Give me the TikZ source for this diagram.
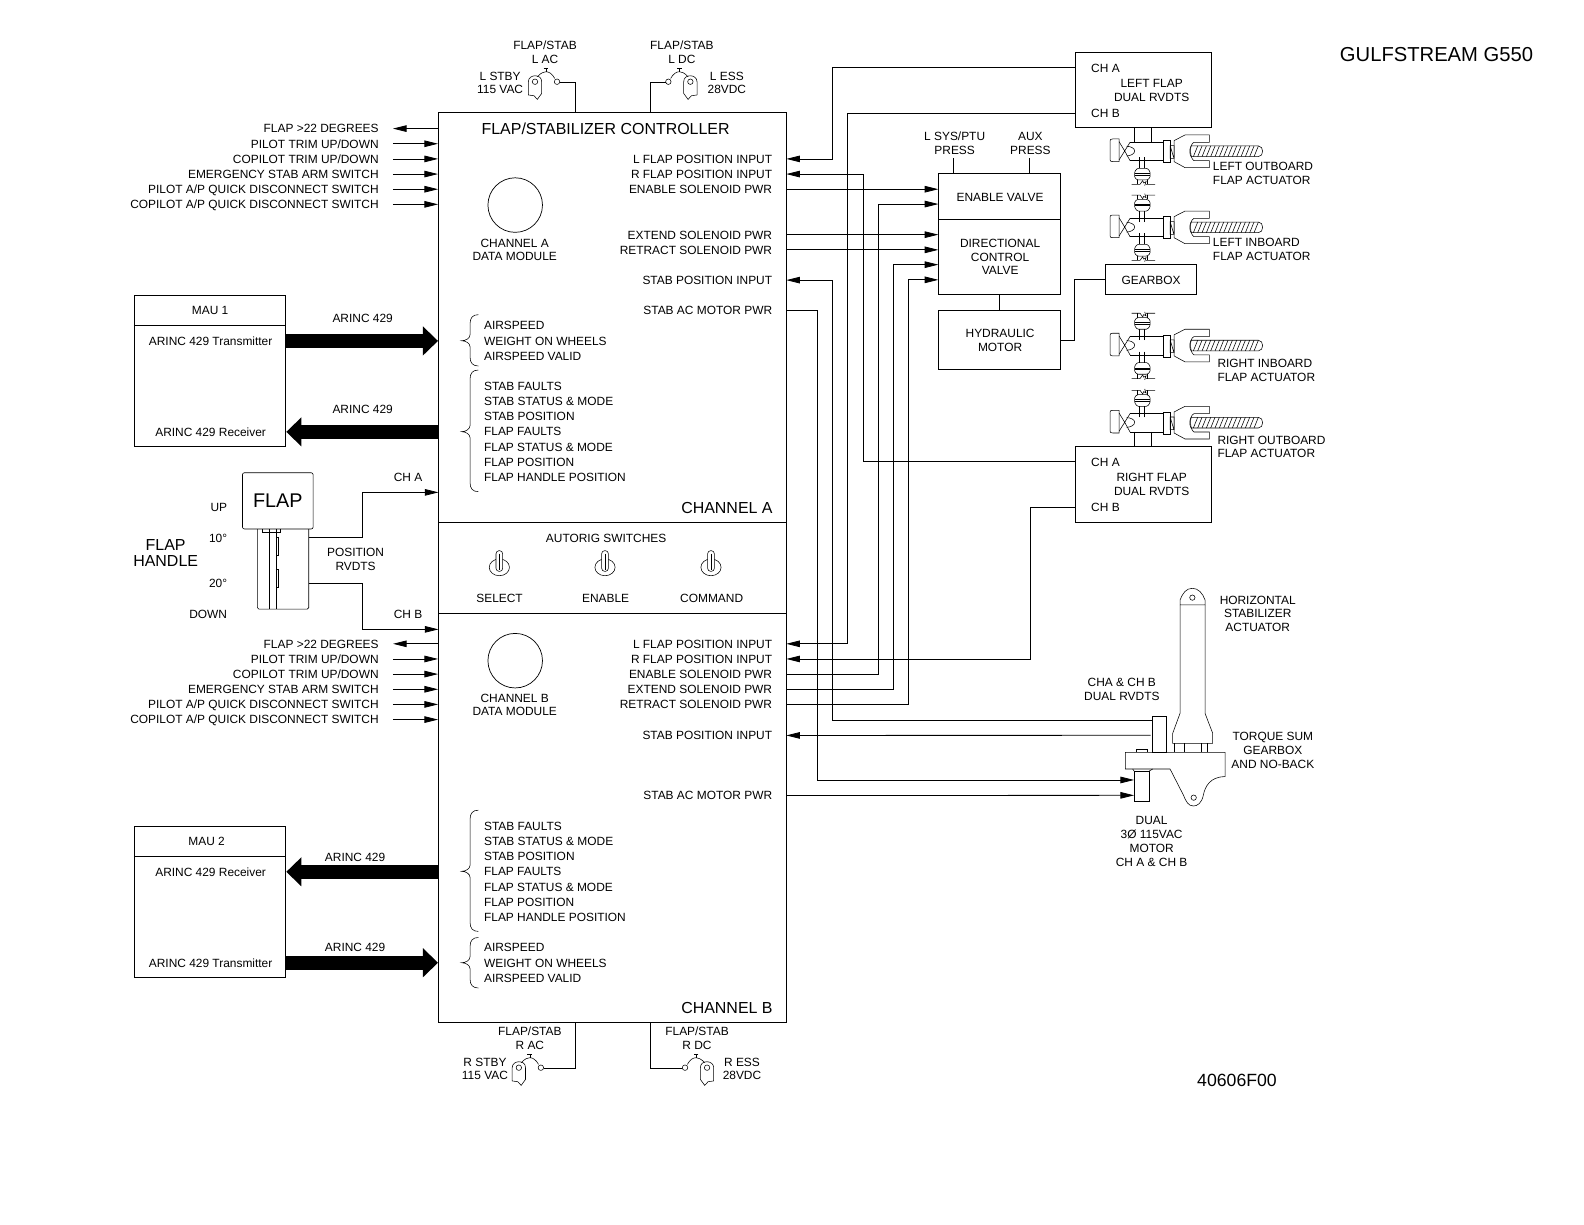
\documentclass[tikz,border=0pt]{standalone}
\usepackage{fontspec}
\setmainfont{Liberation Sans}
\usetikzlibrary{arrows.meta}
\newcommand{\ftS}{\fontsize{11.8}{13.6}\selectfont}
\newcommand{\ftL}{\fontsize{11.8}{15}\selectfont}
\tikzset{
  txt/.style={inner sep=0pt,font=\ftS,text height=8.6pt,text depth=0pt},
  mtxt/.style={inner sep=0pt,font=\ftS,align=center},
  ltxt/.style={inner sep=0pt,font=\ftL,align=left,anchor=west},
  bigt/.style={inner sep=0pt,font=\fontsize{15.8}{16}\selectfont},
  boxn/.style={draw,line width=.8pt,inner sep=0pt,fill=none},
  sig/.style={line width=.8pt,-{Triangle[length=13.5pt,width=6.5pt]}},
  wire/.style={line width=.8pt},
  thin line/.style={line width=.55pt},
  fat/.style={line width=14pt,-{Triangle[length=15pt,width=28pt]}},
  breaker/.pic={
    \draw[thin line] (-8.6,5) .. controls (-5,1) and (-2,0) .. (0,0) .. controls (3,0) and (6,2) .. (8.6,6.6);
    \draw[thin line] (0,0)--(0,-3.3) (-2.4,-3.3)--(2.4,-3.3);
    \draw[thin line] (10.9,9.9) circle (2.7);
    \draw[thin line] (-10.9,9.9) circle (2.7);
    \draw[thin line] (-17.5,23) -- (-17.5,10) .. controls (-17.5,6) and (-14,4) .. (-10.9,4) .. controls (-7,4) and (-4.3,6) .. (-4.3,10) -- (-4.3,21.5) -- (-8.6,27.4) -- (-11.9,23.8) -- cycle;
  },
  toggle/.pic={
    \draw[thin line] (0,0) ellipse (10 and 8.3);
    \draw[thin line,fill=white,rounded corners=3pt] (-3.3,4)--(-3.3,-16.5)--(3.3,-16.5)--(3.3,4)--cycle;
    \draw[thin line] (0,-13.5)--(0,3);
  },
}
\newcommand{\actbody}{
    \draw[thin line] (8,-38)--(27,-38)--(27,30)--(8,30) .. controls (2,30) and (0,28) .. (0,24) -- (0,-32) .. controls (0,-36) and (2,-38) .. (8,-38);
    \draw[thin line] (27,-30)--(44,-2)--(27,25) (60,-28)--(44,-2)--(60,27);
    \draw[thin line] (50,-16) .. controls (62,-16) and (74,-10) .. (74,-2) .. controls (74,6) and (62,13) .. (50,13);
    \draw[thin line] (60,-28)--(160,-28) (60,27)--(160,27) (160,-28)--(160,27);
    \draw[thin line] (160,-33) rectangle (180,33);
    \draw[thin line] (180,-18) rectangle (192,20) (181,-16)--(191,18);
    \draw[thin line] (192,-33)--(192,30)--(225,48)--(298,48)--(298,27)--(252,27) .. controls (240,22) and (236,-22) .. (252,-28) -- (298,-28)--(298,-50)--(225,-50)--cycle;
    \draw[thin line] (243,-17)--(445,-17) .. controls (462,-17) and (462,15) .. (445,15) -- (243,15) .. controls (238,5) and (238,-7) .. (243,-17);
    \foreach \hx in {250,263,...,440} {\draw[thin line] (\hx,15)--(\hx+13,-17);}
}
\newcommand{\coupl}{
    \draw[thin line] (88,17)--(88,50) (103,17)--(103,50);
    \draw[thin line,rounded corners=1pt] (82,50)--(112,50)--(120,60)--(120,78)--(112,85)--(82,85)--(74,78)--(74,60)--cycle;
    \draw[thin line] (74,66)--(120,66) (74,70)--(120,70);
    \draw[thin line] (82,85)--(82,98) (112,85)--(112,98);
    \draw[thin line] (65,98)--(90,98)--(98,87)--(101,94)--(108,90)--(104,102) (108,98)--(135,98);
}
\newcommand{\couplup}{\begin{scope}[yscale=-1]\coupl\end{scope}}
\newcommand{\lsig}[3]{\node[txt,anchor=east] (#1) at (375,#2) {#3};\draw[sig] (389,#2) -- (ctrl.west |- #1);}
\newcommand{\lsigout}[3]{\node[txt,anchor=east] (#1) at (375,#2) {#3};\draw[sig] (ctrl.west |- #1) -- (389,#2);}
\newcommand{\rlab}[3]{\node[txt,anchor=east] (#1) at (764.5,#2) {#3};}
\newcommand{\mybrace}[3]{\draw[thin line] (473.5,#1) .. controls (468,#1) and (465.3,{#1+3}) .. (465.3,{#1+9}) -- (465.3,{#2-6}) .. controls (465.3,{#2-2.5}) and (461,#2) .. (457,#2) .. controls (461,#2) and (465.3,{#2+2.5}) .. (465.3,{#2+6}) -- (465.3,{#3-9}) .. controls (465.3,{#3-3}) and (468,#3) .. (473.5,#3);}
\begin{document}
\begin{tikzpicture}[x=1pt,y=-1pt]
\fill[white] (0,0) rectangle (1568,1212);
\useasboundingbox (0,0) rectangle (1568,1212);
% main controller
\node[boxn,minimum width=344pt,minimum height=901pt] (ctrl) at (606,561.5) {};
\draw[wire] (ctrl.west |- 0,517) -- (ctrl.east |- 0,517);
\draw[wire] (ctrl.west |- 0,607) -- (ctrl.east |- 0,607);
\node[bigt] (title) at (599.5,127) {FLAP/STABILIZER CONTROLLER};
\node[bigt,anchor=east] (chanA) at (765,502.5) {CHANNEL A};
\node[bigt,anchor=east] (chanB) at (765,998) {CHANNEL B};
\node[draw,circle,line width=.7pt,minimum size=54pt,inner sep=0pt] (dmA) at (510,203) {};
\node[draw,circle,line width=.7pt,minimum size=54pt,inner sep=0pt] (dmB) at (510,654) {};
\node[mtxt] (dmAt) at (509.5,247.3) {CHANNEL A\\DATA MODULE};
\node[mtxt] (dmBt) at (509.5,697.8) {CHANNEL B\\DATA MODULE};
% left signals
\lsigout{a1}{127.3}{FLAP >22 DEGREES}
\lsig{a2}{142.3}{PILOT TRIM UP/DOWN}
\lsig{a3}{157.3}{COPILOT TRIM UP/DOWN}
\lsig{a4}{172.3}{EMERGENCY STAB ARM SWITCH}
\lsig{a5}{187.3}{PILOT A/P QUICK DISCONNECT SWITCH}
\lsig{a6}{202.3}{COPILOT A/P QUICK DISCONNECT SWITCH}
\lsigout{b1}{637.3}{FLAP >22 DEGREES}
\lsig{b2}{652.3}{PILOT TRIM UP/DOWN}
\lsig{b3}{667.3}{COPILOT TRIM UP/DOWN}
\lsig{b4}{682.3}{EMERGENCY STAB ARM SWITCH}
\lsig{b5}{697.3}{PILOT A/P QUICK DISCONNECT SWITCH}
\lsig{b6}{712.3}{COPILOT A/P QUICK DISCONNECT SWITCH}
% right labels
\rlab{ra1}{157.3}{L FLAP POSITION INPUT}
\rlab{ra2}{172.3}{R FLAP POSITION INPUT}
\rlab{ra3}{187.3}{ENABLE SOLENOID PWR}
\rlab{ra4}{232.3}{EXTEND SOLENOID PWR}
\rlab{ra5}{247.3}{RETRACT SOLENOID PWR}
\rlab{ra6}{277.3}{STAB POSITION INPUT}
\rlab{ra7}{307.3}{STAB AC MOTOR PWR}
\rlab{rb1}{637.3}{L FLAP POSITION INPUT}
\rlab{rb2}{652.3}{R FLAP POSITION INPUT}
\rlab{rb3}{667.3}{ENABLE SOLENOID PWR}
\rlab{rb4}{682.3}{EXTEND SOLENOID PWR}
\rlab{rb5}{697.3}{RETRACT SOLENOID PWR}
\rlab{rb6}{728}{STAB POSITION INPUT}
\rlab{rb7}{787.5}{STAB AC MOTOR PWR}
% lists
\node[ltxt] (l1) at (479,337.5) {AIRSPEED\\WEIGHT ON WHEELS\\AIRSPEED VALID};
\node[ltxt] (l2) at (479,427.5) {STAB FAULTS\\STAB STATUS \& MODE\\STAB POSITION\\FLAP FAULTS\\FLAP STATUS \& MODE\\FLAP POSITION\\FLAP HANDLE POSITION};
\node[ltxt] (l3) at (479,863) {STAB FAULTS\\STAB STATUS \& MODE\\STAB POSITION\\FLAP FAULTS\\FLAP STATUS \& MODE\\FLAP POSITION\\FLAP HANDLE POSITION};
\node[ltxt] (l4) at (479,953.3) {AIRSPEED\\WEIGHT ON WHEELS\\AIRSPEED VALID};
\mybrace{311.5}{337.3}{362.3}
\mybrace{366.3}{427.3}{486.7}
\mybrace{802}{862.5}{922}
\mybrace{928}{953}{978}
% autorig
\node[txt] (autorig) at (600,532.5) {AUTORIG SWITCHES};
\node[txt] (swS) at (494.5,592.5) {SELECT};
\node[txt] (swE) at (599.5,592.5) {ENABLE};
\node[txt] (swC) at (704.5,592.5) {COMMAND};
\pic at (494.3,561.6) {toggle};
\pic at (598.9,561.6) {toggle};
\pic at (703.8,561.6) {toggle};
% breakers
\node[mtxt] (lac) at (539.5,52) {FLAP/STAB\\L AC};
\node[mtxt] (ldc) at (675,52) {FLAP/STAB\\L DC};
\node[mtxt,anchor=east] (lstby) at (518,82) {L STBY\\115 VAC};
\node[mtxt] (less) at (719.5,82) {L ESS\\28VDC};
\pic at (540.5,71) {breaker};
\pic[xscale=-1] at (672.5,71) {breaker};
\coordinate (lacw) at (554.2,81);
\coordinate (ldcw) at (658.8,81);
\draw[thin line] (lacw) -| (ctrl.north -| 569,0);
\draw[thin line] (ldcw) -| (ctrl.north -| 644,0);
\node[mtxt] (rac) at (524.5,1028) {FLAP/STAB\\R AC};
\node[mtxt] (rdc) at (690,1028) {FLAP/STAB\\R DC};
\node[mtxt,anchor=east] (rstby) at (503,1058) {R STBY\\115 VAC};
\node[mtxt] (ress) at (734.5,1058) {R ESS\\28VDC};
\pic at (524.5,1047) {breaker};
\pic[xscale=-1] at (689,1047) {breaker};
\coordinate (racw) at (538.2,1057);
\coordinate (rdcw) at (675.3,1057);
\draw[thin line] (racw) -| (ctrl.south -| 569,0);
\draw[thin line] (rdcw) -| (ctrl.south -| 644,0);
% MAUs
\node[boxn,minimum width=150pt,minimum height=150pt] (mau1) at (208,367) {};
\draw[wire] (mau1.west |- 0,322) -- (mau1.east |- 0,322);
\node[txt] (mau1t) at (208,307.5) {MAU 1};
\node[txt] (mau1tx) at (208.5,337.5) {ARINC 429 Transmitter};
\node[txt] (mau1rx) at (208.5,427.5) {ARINC 429 Receiver};
\node[boxn,minimum width=150pt,minimum height=150pt] (mau2) at (208,893) {};
\draw[wire] (mau2.west |- 0,848) -- (mau2.east |- 0,848);
\node[txt] (mau2t) at (204.5,833) {MAU 2};
\node[txt] (mau2rx) at (208.5,863) {ARINC 429 Receiver};
\node[txt] (mau2tx) at (208.5,953) {ARINC 429 Transmitter};
\draw[fat] (mau1.east |- mau1tx) -- (ctrl.west |- mau1tx);
\draw[fat] (ctrl.west |- mau1rx) -- (mau1.east |- mau1rx);
\draw[fat] (ctrl.west |- mau2rx) -- (mau2.east |- mau2rx);
\draw[fat] (mau2.east |- mau2tx) -- (ctrl.west |- mau2tx);
\node[txt] (ar1) at (359,315) {ARINC 429};
\node[txt] (ar2) at (359,405) {ARINC 429};
\node[txt] (ar3) at (351.5,848) {ARINC 429};
\node[txt] (ar4) at (351.5,938) {ARINC 429};
% flap handle
\node[draw,line width=.6pt,rounded corners=2pt,minimum width=70pt,minimum height=55.7pt,inner sep=0pt,font=\fontsize{19.6}{20}\selectfont] (fhead) at (275,495.8) {FLAP};
\coordinate (fbodyTR) at (305.6,532);
\coordinate (fbodyBR) at (305.6,577.4);
\draw[thin line,rounded corners=1.5pt] (254.7,523.7)--(254.7,603)--(305.6,603)--(305.6,523.7);
\draw[thin line] (266.3,523.7)--(266.3,603) (273.2,523.7)--(273.2,603);
\draw[thin line] (259.7,523.7)--(259.7,527)--(277.9,527)--(277.9,523.7);
\draw[thin line] (273.2,532)--(275.5,532)--(275.5,550)--(273.2,550) (273.2,563.6)--(275.5,563.6)--(275.5,581.7)--(273.2,581.7);
\coordinate (chAin) at (434,487.4);
\coordinate (chBin) at (434,623);
\draw[sig] (fbodyTR) -- (358.7,532) -- (358.7,487.4) -- (chAin);
\draw[sig] (fbodyBR) -- (358.7,577.4) -- (358.7,623) -- (chBin);
\node[txt] (cha) at (404,472.5) {CH A};
\node[txt] (chb) at (404,607.5) {CH B};
\node[mtxt] (posr) at (352,554) {POSITION\\RVDTS};
\node[txt,anchor=east] (fup) at (225,502.5) {UP};
\node[txt,anchor=east] (f10) at (225,532.5) {10°};
\node[txt,anchor=east] (f20) at (225,577.5) {20°};
\node[txt,anchor=east] (fdn) at (225,607.5) {DOWN};
\node[inner sep=0pt,align=center,font=\fontsize{15.8}{16.5}\selectfont] (fhand) at (164,547.5) {FLAP\\HANDLE};
% valves
\node[boxn,minimum width=120.5pt,minimum height=45.4pt] (enable) at (989.5,194.3) {};
\node[txt] (enablet) at (990,195) {ENABLE VALVE};
\node[boxn,minimum width=120.5pt,minimum height=74.3pt] (dcv) at (989.5,254.2) {};
\node[mtxt] (dcvt) at (990,254.5) {DIRECTIONAL\\CONTROL\\VALVE};
\node[boxn,minimum width=120.5pt,minimum height=59pt] (hyd) at (989.5,336.5) {};
\node[mtxt] (hydt) at (990,337) {HYDRAULIC\\MOTOR};
\node[boxn,minimum width=90pt,minimum height=30pt] (gbx) at (1139,276.5) {};
\node[txt] (gbxt) at (1139.5,277) {GEARBOX};
\draw[wire] (dcv.south -| hyd.north) -- (hyd.north);
\draw[wire] (hyd.east) -- (1064,336.5) -- (1064,276.5) -- (gbx.west);
\node[mtxt] (lsys) at (945,142) {L SYS/PTU\\PRESS};
\node[mtxt] (aux) at (1020,142) {AUX\\PRESS};
\coordinate (lsysb) at (943.7,156.7);
\coordinate (auxb) at (1018.8,156.7);
\draw[wire] (lsysb) -- (enable.north -| lsysb);
\draw[wire] (auxb) -- (enable.north -| auxb);
% RVDT boxes
\node[boxn,minimum width=134pt,minimum height=74pt] (lrvdt) at (1132,89) {};
\node[txt,anchor=west] (lcha) at (1080,67) {CH A};
\node[txt,anchor=west] (lchb) at (1080,112) {CH B};
\node[mtxt] (lrt) at (1140,89.5) {LEFT FLAP\\DUAL RVDTS};
\node[boxn,minimum width=134pt,minimum height=75pt] (rrvdt) at (1132,479.5) {};
\node[txt,anchor=west] (rcha) at (1080,457) {CH A};
\node[txt,anchor=west] (rchb) at (1080,502) {CH B};
\node[mtxt] (rrt) at (1140,479.5) {RIGHT FLAP\\DUAL RVDTS};
% connectors right
\draw[sig] (lrvdt.west |- lcha) -- (824,67) -- (824,157.3) -- (ctrl.east |- ra1);
\draw[sig] (lrvdt.west |- lchb) -- (839,112) -- (839,637.3) -- (ctrl.east |- rb1);
\draw[sig] (rrvdt.west |- rcha) -- (855,457) -- (855,172.3) -- (ctrl.east |- ra2);
\draw[sig] (rrvdt.west |- rchb) -- (1020,502) -- (1020,652.3) -- (ctrl.east |- rb2);
\draw[sig] (ctrl.east |- ra3) -- (enable.west |- ra3);
\draw[sig] (ctrl.east |- rb3) -- (870,667.3) -- (870,202) -- (enable.west |- 0,202);
\draw[sig] (ctrl.east |- ra4) -- (dcv.west |- ra4);
\draw[sig] (ctrl.east |- ra5) -- (dcv.west |- ra5);
\draw[sig] (ctrl.east |- rb4) -- (884.7,682.3) -- (884.7,262) -- (dcv.west |- 0,262);
\draw[sig] (ctrl.east |- rb5) -- (899,697.3) -- (899,277) -- (dcv.west |- 0,277);
% stabilizer actuator (drawn in zoom units)
\begin{scope}[shift={(1049.3,574.1)},scale=.33]
\draw[thin line] (360,75)--(360,60) .. controls (368,40) and (378,25) .. (397,25) .. controls (415,25) and (428,40) .. (435,60) -- (435,75)--cycle;
\draw[thin line] (397,53) circle (8);
\draw[thin line] (360,75)--(360,400)--(338,460)--(338,490)--(458,490)--(458,460)--(435,400)--(435,75);
\draw[thin line] (343,490)--(343,517) (373,490)--(373,517) (423,490)--(423,517) (443,490)--(443,517);
\draw[thin line] (196,517)--(495,517)--(495,590) .. controls (450,590) and (435,620) .. (430,645) .. controls (425,670) and (412,678) .. (400,678) .. controls (385,678) and (378,665) .. (370,645) -- (330,567)--(196,567)--cycle;
\draw[thin line] (401,653) circle (8);
\draw[thin line] (228,517)--(228,508)--(263,508)--(263,517);
\node[draw,line width=.55pt,minimum width=13.9pt,minimum height=36pt,inner sep=0pt] (srvdt) at (299,462.5) {};
\node[draw,line width=.55pt,minimum width=15.2pt,minimum height=30pt,inner sep=0pt] (smotor) at (245,618.5) {};
\draw[thin line] (218,567)--(222,573) (278,567)--(268,573);
\coordinate (srv1) at (278,422);
\coordinate (srv2) at (272,466);
\coordinate (smo1) at (222,600);
\coordinate (smo2) at (222,646);
\end{scope}
\draw[sig] (srv1) -- (824,0 |- srv1) -- (824,277.3) -- (ctrl.east |- ra6);
\draw[sig] (srv2) -- (ctrl.east |- rb6);
\draw[sig] (ctrl.east |- ra7) -- (809,307.3) -- (809,0 |- smo1) -- (smo1);
\draw[sig] (ctrl.east |- rb7) -- (smo2);
\node[mtxt] (hsa) at (1245,607.5) {HORIZONTAL\\STABILIZER\\ACTUATOR};
\node[mtxt] (cdr) at (1110.5,682.5) {CHA \& CH B\\DUAL RVDTS};
\node[mtxt] (tsg) at (1260,743) {TORQUE SUM\\GEARBOX\\AND NO-BACK};
\node[mtxt] (dmo) at (1140,833) {DUAL\\3Ø 115VAC\\MOTOR\\CH A \& CH B};
% flap actuators
\begin{scope}[shift={(1098.8,150.1)},scale=.33]
\actbody \coupl
\draw[thin line] (73,-28)--(73,-70) (125,-28)--(125,-70);
\end{scope}
\begin{scope}[shift={(1098.8,225.4)},scale=.33]
\actbody \coupl \couplup
\end{scope}
\begin{scope}[shift={(1098.8,342.4)},scale=.33]
\actbody \coupl \couplup
\end{scope}
\begin{scope}[shift={(1098.8,418.7)},scale=.33]
\actbody \couplup
\draw[thin line] (73,27)--(73,71) (125,27)--(125,71);
\end{scope}
\node[mtxt,align=left,anchor=west] (lo) at (1200.5,172) {LEFT OUTBOARD\\FLAP ACTUATOR};
\node[mtxt,align=left,anchor=west] (li) at (1200.5,247) {LEFT INBOARD\\FLAP ACTUATOR};
\node[mtxt,align=left,anchor=west] (ri) at (1205,367) {RIGHT INBOARD\\FLAP ACTUATOR};
\node[mtxt,align=left,anchor=west] (ro) at (1205,442.5) {RIGHT OUTBOARD\\FLAP ACTUATOR};
% titles
\node[inner sep=0pt,font=\fontsize{20}{20}\selectfont] (brand) at (1422,54) {GULFSTREAM G550};
\node[inner sep=0pt,font=\fontsize{17.5}{18}\selectfont] (code) at (1224.5,1069.5) {40606F00};
\end{tikzpicture}
\end{document}
